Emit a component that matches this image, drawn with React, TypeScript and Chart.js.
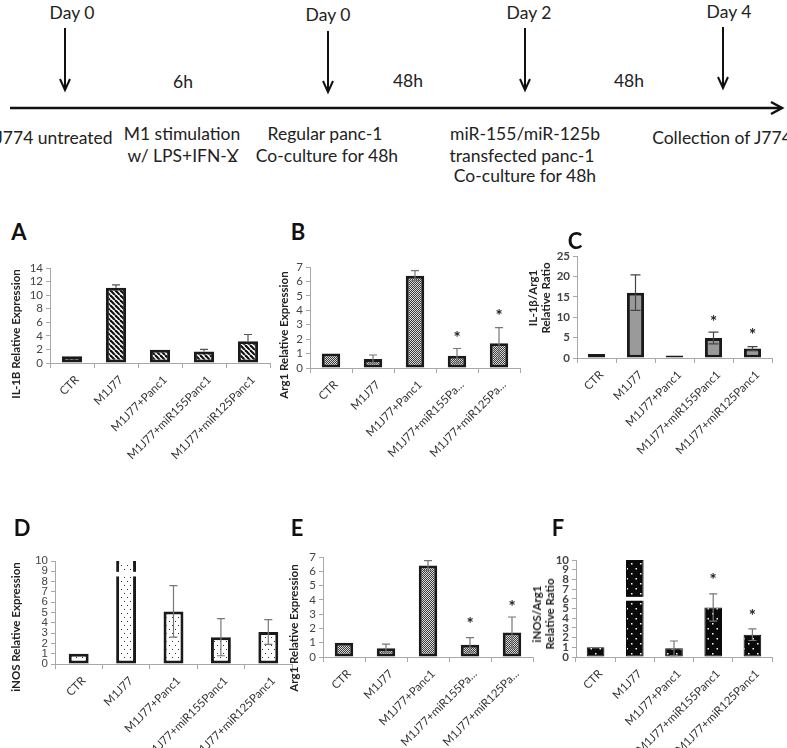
import React, { useEffect, useRef } from 'react';
import { Chart, registerables } from 'chart.js';
Chart.register(...registerables);

// ---------- data ----------
const categories = ['CTR', 'M1J77', 'M1J77+Panc1', 'M1J77+miR155Panc1', 'M1J77+miR125Panc1'];
const categoriesTrunc = ['CTR', 'M1J77', 'M1J77+Panc1', 'M1J77+miR155Pa...', 'M1J77+miR125Pa...'];

// A: IL-1B relative expression
const il1bValues = [1.0, 11.1, 1.95, 1.7, 3.2];
const il1bErrors = [0, 0.4, 0, 0.3, 1.0];
const il1bAxis = [0, 14, 2];

// B / E: Arg1 relative expression
const arg1Values = [1.0, 0.62, 6.4, 0.85, 1.72];
const arg1Errors = [0, 0.28, 0.35, 0.5, 1.08];
const arg1StarsB = [null, null, null, 2.35, 3.85];
const arg1StarsE = [null, null, null, 2.6, 3.8];
const arg1Axis = [0, 7, 1];

// C: IL-1β/Arg1 relative ratio
const il1bArg1Ratio = [1.0, 16.0, 0.6, 4.9, 2.3];
const il1bArg1Errors = [0, 4.35, 0, 1.45, 0.5];
const il1bArg1Stars = [null, null, null, 9.8, 6.5];
const il1bArg1Axis = [0, 25, 5];

// D: iNOS relative expression (M1J77 bar broken)
const inosValues = [1.0, 10, 5.1, 2.6, 3.1];
const inosErrors = [0, 0, 2.5, 1.8, 1.2];
const inosBreak = [8.5, 8.95];
const inosAxis = [0, 10, 1];

// F: iNOS/Arg1 relative ratio (M1J77 bar broken)
const inosArg1Ratio = [1.0, 10, 0.9, 5.1, 2.3];
const inosArg1Errors = [0, 0, 0.75, 1.4, 0.6];
const inosArg1Stars = [null, null, null, 8.4, 4.65];
const inosArg1Break = [5.8, 6.2];
const inosArg1Axis = [0, 10, 1];

// ---------- patterns ----------
function makePattern(kind: string): CanvasPattern | string {
  const c = document.createElement('canvas');
  const g = c.getContext('2d')!;
  if (kind === 'stripes') {
    c.width = 5; c.height = 5;
    g.fillStyle = '#fff'; g.fillRect(0, 0, 5, 5);
    g.strokeStyle = '#111'; g.lineWidth = 2.2;
    for (const k of [-5, 0, 5]) { g.beginPath(); g.moveTo(k, 0); g.lineTo(k + 5, 5); g.stroke(); }
  } else if (kind === 'checker') {
    c.width = 2; c.height = 2;
    g.fillStyle = '#dcdcdc'; g.fillRect(0, 0, 2, 2);
    g.fillStyle = '#3a3a3a'; g.fillRect(0, 0, 1, 1); g.fillRect(1, 1, 1, 1);
  } else if (kind === 'dotsWhite') {
    c.width = 6; c.height = 8;
    g.fillStyle = '#fff'; g.fillRect(0, 0, 6, 8);
    g.fillStyle = '#333'; g.fillRect(1, 1, 1, 1); g.fillRect(4, 5, 1, 1);
  } else if (kind === 'dotsBlack') {
    c.width = 9; c.height = 10;
    g.fillStyle = '#0a0a0a'; g.fillRect(0, 0, 9, 10);
    g.fillStyle = '#fff'; g.fillRect(2, 3, 1.5, 1.5); g.fillRect(6.5, 8, 1.5, 1.5);
  } else {
    return '#9a9a9a';
  }
  return g.createPattern(c, 'repeat')!;
}

// ---------- plugin: breaks, error bars, stars ----------
const extrasPlugin = {
  id: 'extras',
  afterDatasetsDraw(chart: any, _args: any, opts: any) {
    const { ctx } = chart;
    const meta = chart.getDatasetMeta(0);
    const y = chart.scales.y;
    ctx.save();
    if (opts.breakIndex != null && opts.breakRange) {
      const bar = meta.data[opts.breakIndex];
      const y1 = y.getPixelForValue(opts.breakRange[1]);
      const y0 = y.getPixelForValue(opts.breakRange[0]);
      ctx.fillStyle = '#fff';
      ctx.fillRect(bar.x - bar.width / 2 - 1, y1, bar.width + 2, y0 - y1);
      if (opts.openTop) {
        ctx.fillRect(bar.x - bar.width / 2 + 3, bar.y - 1, bar.width - 6, 4);
      }
    }
    const errs: number[] = opts.errors || [];
    const vals: number[] = chart.data.datasets[0].data;
    ctx.strokeStyle = opts.errorColor || '#666';
    ctx.lineWidth = 1.2;
    errs.forEach((e, i) => {
      if (!e) return;
      const bar = meta.data[i];
      const hi = y.getPixelForValue(vals[i] + e);
      const lo = opts.upOnly ? y.getPixelForValue(vals[i]) : y.getPixelForValue(vals[i] - e);
      const cap = opts.cap || 4;
      ctx.beginPath();
      ctx.moveTo(bar.x, lo); ctx.lineTo(bar.x, hi);
      ctx.moveTo(bar.x - cap, hi); ctx.lineTo(bar.x + cap, hi);
      if (!opts.upOnly) { ctx.moveTo(bar.x - cap, lo); ctx.lineTo(bar.x + cap, lo); }
      ctx.stroke();
    });
    const stars: (number | null)[] = opts.stars || [];
    ctx.fillStyle = '#222';
    ctx.font = 'bold 17px Lato, sans-serif';
    ctx.textAlign = 'center';
    ctx.textBaseline = 'alphabetic';
    stars.forEach((s, i) => {
      if (s == null) return;
      const bar = meta.data[i];
      ctx.fillText('*', bar.x, y.getPixelForValue(s) + 10);
    });
    ctx.restore();
  },
};

type PanelCfg = {
  left: number; top: number; w: number; h: number;
  padTop: number; padRight: number; yWidth: number; xHeight: number;
  labels: string[]; values: number[]; axis: number[];
  pattern: string; borderColor: string; borderWidth: number; barPct: number;
  extras: any; tickBold?: boolean; tickFamily?: string;
};

function BarPanel({ cfg }: { cfg: PanelCfg }) {
  const ref = useRef<HTMLCanvasElement>(null);
  useEffect(() => {
    const tickFont = { family: cfg.tickFamily || 'Lato, sans-serif', size: 11.5, weight: cfg.tickBold ? 'bold' : 'normal', lineHeight: 1 } as any;
    const count = Math.round((cfg.axis[1] - cfg.axis[0]) / cfg.axis[2]) + 1;
    const chart = new Chart(ref.current!, {
      type: 'bar',
      data: {
        labels: cfg.labels,
        datasets: [{
          data: cfg.values,
          backgroundColor: makePattern(cfg.pattern) as any,
          borderColor: cfg.borderColor,
          borderWidth: cfg.borderWidth,
          borderSkipped: false,
          barPercentage: cfg.barPct,
          categoryPercentage: 1,
        }],
      },
      options: {
        responsive: false,
        animation: false,
        layout: { padding: { top: cfg.padTop, right: cfg.padRight, left: 0, bottom: 0 } },
        plugins: { legend: { display: false }, tooltip: { enabled: false }, extras: cfg.extras } as any,
        scales: {
          x: {
            grid: { display: true, drawOnChartArea: false, drawTicks: true, tickLength: 5, color: '#a8a8a8', offset: true },
            border: { display: true, color: '#a8a8a8' },
            ticks: { autoSkip: false, minRotation: 45, maxRotation: 45, font: { family: 'Lato, sans-serif', size: 11.5 }, color: '#333', padding: 5, labelOffset: 5 },
            afterFit: (s: any) => { s.height = cfg.xHeight; },
          },
          y: {
            min: cfg.axis[0], max: cfg.axis[1],
            ticks: { stepSize: cfg.axis[2], count, autoSkip: false, font: tickFont, color: '#444', padding: 3 },
            grid: { display: true, drawOnChartArea: false, drawTicks: true, tickLength: 4, color: '#a8a8a8' },
            border: { display: true, color: '#a8a8a8' },
            afterFit: (s: any) => { s.width = cfg.yWidth; },
          },
        },
      } as any,
      plugins: [extrasPlugin as any],
    });
    return () => chart.destroy();
  }, []);
  return (
    <canvas ref={ref} width={cfg.w} height={cfg.h}
      style={{ position: 'absolute', left: cfg.left, top: cfg.top, width: cfg.w, height: cfg.h }} />
  );
}

const panels: PanelCfg[] = [
  { left: 0, top: 255, w: 275, h: 215, padTop: 13, padRight: 5, yWidth: 50, xHeight: 107,
    labels: categories, values: il1bValues, axis: il1bAxis, pattern: 'stripes', borderColor: '#1a1a1a', borderWidth: 3, barPct: 0.46,
    extras: { errors: il1bErrors, upOnly: true, errorColor: '#555', cap: 4 } },
  { left: 262, top: 255, w: 265, h: 215, padTop: 12, padRight: 7, yWidth: 48, xHeight: 102,
    labels: categoriesTrunc, values: arg1Values, axis: arg1Axis, pattern: 'checker', borderColor: '#1a1a1a', borderWidth: 3, barPct: 0.44,
    extras: { errors: arg1Errors, stars: arg1StarsB, errorColor: '#777', cap: 4 } },
  { left: 527, top: 245, w: 260, h: 225, padTop: 11, padRight: 15, yWidth: 50, xHeight: 112,
    labels: categories, values: il1bArg1Ratio, axis: il1bArg1Axis, pattern: 'solid', borderColor: '#1a1a1a', borderWidth: 3, barPct: 0.44,
    extras: { errors: il1bArg1Errors, stars: il1bArg1Stars, errorColor: '#444', cap: 5 }, tickBold: true },
  { left: 0, top: 540, w: 300, h: 208, padTop: 21, padRight: 8, yWidth: 55, xHeight: 84,
    labels: categories, values: inosValues, axis: inosAxis, pattern: 'dotsWhite', borderColor: '#1a1a1a', borderWidth: 3, barPct: 0.42,
    extras: { errors: inosErrors, errorColor: '#777', cap: 4, breakIndex: 1, breakRange: inosBreak, openTop: true },
    tickFamily: '"Liberation Sans", Arial, sans-serif' },
  { left: 275, top: 540, w: 260, h: 208, padTop: 17, padRight: 2, yWidth: 48, xHeight: 91,
    labels: categoriesTrunc, values: arg1Values, axis: arg1Axis, pattern: 'checker', borderColor: '#1a1a1a', borderWidth: 3, barPct: 0.44,
    extras: { errors: arg1Errors, stars: arg1StarsE, errorColor: '#777', cap: 4 } },
  { left: 530, top: 540, w: 257, h: 208, padTop: 20, padRight: 15, yWidth: 46, xHeight: 91,
    labels: categories, values: inosArg1Ratio, axis: inosArg1Axis, pattern: 'dotsBlack', borderColor: '#0a0a0a', borderWidth: 1, barPct: 0.45,
    extras: { errors: inosArg1Errors, stars: inosArg1Stars, errorColor: '#777', cap: 4, breakIndex: 1, breakRange: inosArg1Break }, tickBold: true },
];

const letters = [
  { t: 'A', x: 19, y: 231 }, { t: 'B', x: 298, y: 231 }, { t: 'C', x: 575, y: 240 },
  { t: 'D', x: 22, y: 527 }, { t: 'E', x: 297, y: 527 }, { t: 'F', x: 558, y: 527 },
];

const yTitles = [
  { lines: ['IL-1B  Relative Expression'], x: 15, y: 334 },
  { lines: ['Arg1 Relative Expression'], x: 283, y: 335 },
  { lines: ['IL-1β/Arg1', 'Relative Ratio'], x: 539, y: 298 },
  { lines: ['iNOS Relative Expression'], x: 15, y: 627 },
  { lines: ['Arg1 Relative Expression'], x: 293, y: 628 },
  { lines: ['iNOS/Arg1', 'Relative Ratio'], x: 543, y: 614 },
];

function Timeline() {
  const tf = { fontFamily: 'Lato, sans-serif', fontSize: 17.5, fill: '#222' } as any;
  const arrows = [{ x: 65, y1: 28, y2: 90 }, { x: 328, y1: 31, y2: 92 }, { x: 525, y1: 28, y2: 90 }, { x: 723, y1: 27, y2: 88 }];
  const texts = [
    ['Day 0', 72, 12], ['Day 0', 328, 14], ['Day 2', 529, 12], ['Day 4', 729, 11],
    ['6h', 183, 81], ['48h', 408, 80], ['48h', 629, 80],
    ['J774 untreated', 54, 137], ['M1 stimulation', 182, 133], ['w/ LPS+IFN-Ɣ', 183, 155],
    ['Regular panc-1', 325, 133], ['Co-culture for 48h', 327, 155],
    ['miR-155/miR-125b', 525, 133], ['transfected panc-1', 522, 155], ['Co-culture for 48h', 525, 175],
    ['Collection of J774', 722, 137],
  ] as [string, number, number][];
  return (
    <svg width={787} height={190} style={{ position: 'absolute', left: 0, top: 0 }}>
      {arrows.map((a, i) => (
        <g key={i} stroke="#111" strokeWidth={2} fill="none">
          <line x1={a.x} y1={a.y1} x2={a.x} y2={a.y2} />
          <polyline points={`${a.x - 5},${a.y2 - 11} ${a.x},${a.y2} ${a.x + 5},${a.y2 - 11}`} />
        </g>
      ))}
      <g stroke="#111" strokeWidth={2.5} fill="none">
        <line x1={10} y1={108} x2={782} y2={108} />
        <polyline points="771,102 782,108 771,114" />
      </g>
      {texts.map(([t, x, y], i) => (
        <text key={i} x={x} y={y} textAnchor="middle" dominantBaseline="central" {...tf}>{t}</text>
      ))}
    </svg>
  );
}

export default function App() {
  return (
    <div style={{ position: 'absolute', left: 0, top: 0, width: 787, height: 748, background: '#fff', overflow: 'hidden' }}>
      <Timeline />
      {panels.map((p, i) => <BarPanel key={i} cfg={p} />)}
      {letters.map((l, i) => (
        <div key={i} style={{ position: 'absolute', left: l.x, top: l.y, transform: 'translate(-50%,-50%)', font: 'bold 22px Lato, sans-serif', color: '#111' }}>{l.t}</div>
      ))}
      {yTitles.map((t, i) => (
        <div key={i} style={{ position: 'absolute', left: t.x, top: t.y, transform: 'translate(-50%,-50%) rotate(-90deg)', font: 'bold 11.5px Lato, sans-serif', lineHeight: '13px', color: '#222', whiteSpace: 'nowrap', textAlign: 'center' }}>
          {t.lines.map((ln, j) => <div key={j}>{ln}</div>)}
        </div>
      ))}
    </div>
  );
}
